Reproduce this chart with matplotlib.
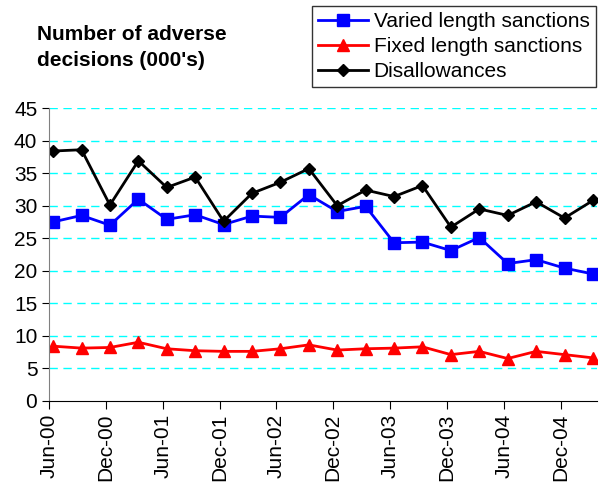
import numpy as np
import matplotlib.pyplot as plt

plt.rcParams['font.family'] = ['Liberation Sans', 'DejaVu Sans']

# quarterly values, Jun-00 .. Mar-05
varied = [27.5, 28.5, 27.0, 31.0, 27.9, 28.6, 27.1, 28.4, 28.2, 31.7,
          29.1, 29.9, 24.3, 24.4, 23.1, 25.1, 21.1, 21.7, 20.4, 19.5]
fixed = [8.4, 8.1, 8.2, 9.0, 8.0, 7.7, 7.6, 7.6, 8.0, 8.6,
         7.8, 8.0, 8.1, 8.3, 7.1, 7.6, 6.5, 7.6, 7.1, 6.6]
disallow = [38.4, 38.6, 30.1, 36.9, 32.8, 34.4, 27.6, 31.9, 33.6, 35.7,
            30.0, 32.4, 31.4, 33.1, 26.7, 29.5, 28.5, 30.6, 28.1, 30.8]
tick_labels = ['Jun-00', 'Dec-00', 'Jun-01', 'Dec-01', 'Jun-02',
               'Dec-02', 'Jun-03', 'Dec-03', 'Jun-04', 'Dec-04']

fig = plt.figure(figsize=(5.99, 4.87), dpi=100)
ax = fig.add_axes([0.082, 0.177, 0.915, 0.601])

x = np.arange(len(varied))
ax.plot(x, varied, color='blue', lw=2, marker='s', ms=8, label='Varied length sanctions')
ax.plot(x, fixed, color='red', lw=2, marker='^', ms=8, label='Fixed length sanctions')
ax.plot(x, disallow, color='black', lw=2, marker='D', ms=6, label='Disallowances')

off = -0.14
ax.set_xlim(off, 19.15)
ax.set_xticks([off + 2 * i for i in range(len(tick_labels))])
ax.set_xticklabels(tick_labels, rotation=90, fontsize=15)
ax.set_ylim(0, 45)
ax.set_yticks(range(0, 50, 5))
ax.tick_params(axis='y', labelsize=15, length=5, direction='out')
ax.tick_params(axis='x', length=6, direction='out')

for v in range(5, 50, 5):
    ax.axhline(v, color='cyan', lw=1, ls=(0, (6, 4)), zorder=0)

ax.spines['top'].set_visible(False)
ax.spines['right'].set_visible(False)
ax.spines['left'].set_color('gray')

fig.text(0.062, 0.902, "Number of adverse\ndecisions (000's)", fontsize=15,
         fontweight='bold', va='center', ha='left', linespacing=1.5)

leg = fig.legend(loc='upper right', bbox_to_anchor=(0.998, 0.992), fontsize=15,
                 frameon=True, fancybox=False, shadow=False, handlelength=2.4,
                 borderpad=0.3, labelspacing=0.28, handletextpad=0.25,
                 borderaxespad=0.1)
leg.get_frame().set_edgecolor('black')
leg.get_frame().set_linewidth(1)

fig.savefig('out.png', dpi=100)
